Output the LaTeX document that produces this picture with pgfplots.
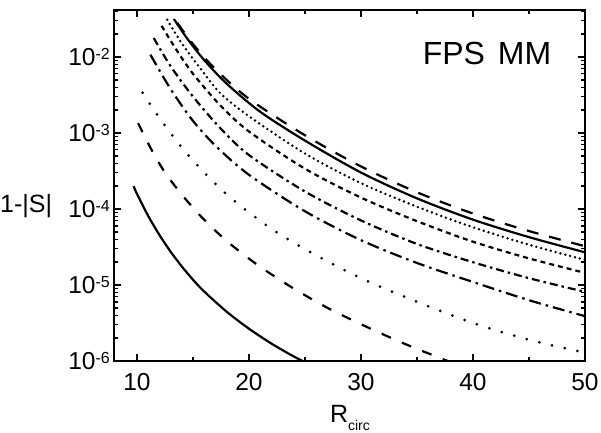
\documentclass[border=0pt]{standalone}
\usepackage{pgfplots}
\pgfplotsset{compat=1.18}
\usepackage{fontspec}
\setmainfont{Liberation Sans}
\newcommand{\ex}[1]{10\raisebox{6pt}{\fontsize{16}{16}\selectfont #1}}
\begin{document}
\begin{tikzpicture}
\begin{axis}[
  scale only axis, width=471pt, height=351pt,
  clip mode=individual,
  ymode=log, xmin=7.95, xmax=50, ymin=1e-6, ymax=0.0415,
  axis line style={line width=1.6pt},
  every tick/.style={line width=1.3pt, black},
  major tick length=7pt, minor tick length=4pt,
  xtick={10,20,30,40,50}, xticklabels={10,20,30,40,50},
  minor xtick={15,25,35,45},
  ytick={1e-6,1e-5,1e-4,1e-3,1e-2},
  yticklabels={{\ex{-6}},{\ex{-5}},{\ex{-4}},{\ex{-3}},{\ex{-2}}},
  minor ytick={2e-6,3e-6,4e-6,5e-6,6e-6,7e-6,8e-6,9e-6,
               2e-5,3e-5,4e-5,5e-5,6e-5,7e-5,8e-5,9e-5,
               2e-4,3e-4,4e-4,5e-4,6e-4,7e-4,8e-4,9e-4,
               2e-3,3e-3,4e-3,5e-3,6e-3,7e-3,8e-3,9e-3,
               2e-2,3e-2,4e-2},
  tick label style={font=\fontsize{24.5}{28}\selectfont},
  xticklabel style={anchor=base, yshift=-29pt, inner sep=0pt},
  yticklabel style={anchor=base east, yshift=-8.5pt, xshift=-4pt, inner sep=0pt},
  every axis plot/.append style={black, line width=2.2pt},
]
% curve 1: long dash
\addplot[smooth, dash pattern=on 12pt off 11pt] coordinates {
(13.6,2.818e-2)(15,1.479e-2)(17,6.918e-3)(20,2.818e-3)(25,9.333e-4)(30,3.631e-4)(35,1.660e-4)(40,8.710e-5)(45,5.129e-5)(50,3.236e-5)};
% curve 2: solid
\addplot[smooth] coordinates {
(13.3,3.162e-2)(14.5,1.738e-2)(16,9.120e-3)(18,4.467e-3)(21,1.905e-3)(25,7.943e-4)(30,3.020e-4)(35,1.380e-4)(40,7.244e-5)(45,4.266e-5)(50,2.692e-5)};
% curve 3: dotted
\addplot[smooth, line cap=round, line width=2.7pt, dash pattern=on 0pt off 5pt] coordinates {
(12.7,3.090e-2)(14,1.514e-2)(15.5,7.586e-3)(17.4,3.388e-3)(20,1.660e-3)(25,5.370e-4)(30,2.188e-4)(35,1.072e-4)(40,5.754e-5)(45,3.388e-5)(50,2.138e-5)};
% curve 4: short dash
\addplot[smooth, dash pattern=on 5pt off 4pt] coordinates {
(12.2,2.570e-2)(13.5,1.259e-2)(15,6.026e-3)(17.4,2.344e-3)(20,1.047e-3)(25,3.388e-4)(30,1.413e-4)(35,6.918e-5)(40,3.715e-5)(45,2.239e-5)(50,1.445e-5)};
% curve 5: dash dot
\addplot[smooth, dash pattern=on 8pt off 4pt on 2.5pt off 4pt] coordinates {
(11.5,1.778e-2)(13,7.586e-3)(15,3.020e-3)(17.4,1.175e-3)(20,5.129e-4)(25,1.698e-4)(30,7.079e-5)(35,3.467e-5)(40,1.995e-5)(45,1.230e-5)(50,8.128e-6)};
% curve 6: long dash dot
\addplot[smooth, dash pattern=on 12pt off 5pt on 2.5pt off 5pt] coordinates {
(11.2,1.072e-2)(13,3.802e-3)(15,1.445e-3)(17.1,6.607e-4)(20,2.818e-4)(25,9.333e-5)(30,3.890e-5)(35,1.950e-5)(40,1.096e-5)(45,6.310e-6)(50,3.890e-6)};
% curve 7: sparse dots
\addplot[smooth, line cap=round, line width=3pt, dash pattern=on 0pt off 13pt] coordinates {
(10.5,3.388e-3)(12,1.585e-3)(14,6.457e-4)(16,3.020e-4)(18.5,1.349e-4)(22,5.495e-5)(25.5,2.692e-5)(30,1.230e-5)(35,6.026e-6)(40,3.162e-6)(45,1.905e-6)(50,1.288e-6)};
% curve 8: medium dash
\addplot[smooth, dash pattern=on 10pt off 12pt] coordinates {
(10.1,1.349e-3)(11.3,6.026e-4)(12.5,3.020e-4)(14,1.549e-4)(15.6,8.318e-5)(17.4,4.571e-5)(19,2.884e-5)(21,1.738e-5)(23.7,9.550e-6)(27,5.012e-6)(30.5,2.818e-6)(34,1.660e-6)(37.4,1.047e-6)(39,8.511e-7)};
% curve 9: solid lower
\addplot[smooth] coordinates {
(9.7,1.995e-4)(10,1.585e-4)(11,8.128e-5)(12,4.571e-5)(13,2.754e-5)(14,1.758e-5)(15,1.175e-5)(16,8.222e-6)(18,4.467e-6)(20,2.661e-6)(22,1.698e-6)(24,1.148e-6)(26,8.128e-7)};
\node[anchor=center] at (rel axis cs:0.792,0.877) {\fontsize{32}{38}\selectfont FPS\hspace{0.4em}MM};
\node[anchor=base west, inner sep=0pt] at (rel axis cs:-0.2420,0.4217) {\fontsize{25}{30}\selectfont 1-|S|};
\node[anchor=base, inner sep=0pt] at (rel axis cs:0.501,-0.1766) {\fontsize{25}{30}\selectfont R\raisebox{-8pt}{\fontsize{14}{14}\selectfont circ}};
\coordinate (bl) at (rel axis cs:-0.2420,-0.2051);
\coordinate (tr) at (rel axis cs:1.0340,1.0285);
\end{axis}
\path (bl) rectangle (tr);
\end{tikzpicture}
\end{document}
